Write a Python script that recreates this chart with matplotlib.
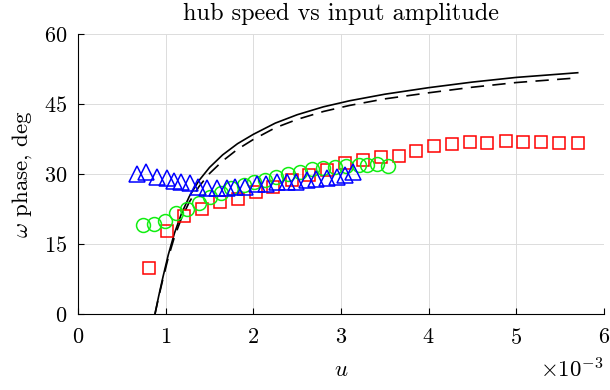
import matplotlib
matplotlib.use("Agg")
import matplotlib.pyplot as plt

plt.rcParams['font.family'] = ['cmr10', 'DejaVu Serif']
plt.rcParams['mathtext.fontset'] = 'cm'
plt.rcParams['axes.formatter.use_mathtext'] = True
plt.rcParams['axes.unicode_minus'] = False

# data, u in units of 1e-3
u_model = [0.878, 0.92, 0.97, 1.03, 1.10, 1.18, 1.27, 1.38, 1.50, 1.65, 1.82,
           2.0, 2.25, 2.5, 2.8, 3.1, 3.5, 4.0, 4.5, 5.0, 5.7]
phase_solid = [0, 3.8, 8.0, 12.7, 17.3, 21.5, 25.2, 28.6, 31.4, 34.1, 36.5,
               38.5, 40.9, 42.7, 44.4, 45.7, 47.1, 48.5, 49.7, 50.7, 51.7]
phase_dashed = [0, 3.6, 7.6, 12.1, 16.5, 20.5, 24.0, 27.3, 30.1, 32.8, 35.3,
                37.4, 39.9, 41.7, 43.4, 44.7, 46.1, 47.4, 48.6, 49.6, 50.6]

u_sq = [0.81, 1.01, 1.21, 1.42, 1.62, 1.83, 2.03, 2.23, 2.44, 2.64, 2.84, 3.05,
        3.25, 3.46, 3.66, 3.86, 4.06, 4.27, 4.47, 4.67, 4.88, 5.08, 5.28, 5.49, 5.70]
phase_sq = [9.9, 17.8, 21.0, 22.4, 23.9, 24.6, 26.2, 27.3, 28.7, 29.8, 30.9, 32.3,
            33.0, 33.6, 33.9, 34.9, 35.9, 36.4, 36.8, 36.7, 37.1, 36.9, 36.8, 36.7, 36.7]

u_circ = [0.74, 0.87, 0.99, 1.12, 1.24, 1.38, 1.51, 1.63, 1.75, 1.89, 2.01, 2.13,
          2.26, 2.40, 2.53, 2.67, 2.80, 2.93, 3.06, 3.20, 3.30, 3.41, 3.54]
phase_circ = [19.1, 19.2, 19.9, 21.6, 22.6, 23.7, 25.1, 25.9, 26.9, 27.6, 28.3, 28.7,
              29.3, 30.1, 30.5, 31.0, 31.2, 31.6, 31.7, 31.9, 32.0, 32.1, 31.7]

u_tri = [0.67, 0.78, 0.90, 1.01, 1.09, 1.18, 1.28, 1.37, 1.47, 1.58, 1.70, 1.79,
         1.90, 2.04, 2.15, 2.27, 2.38, 2.49, 2.61, 2.72, 2.84, 2.95, 3.05, 3.14]
phase_tri = [30.1, 30.5, 29.4, 29.2, 28.5, 28.2, 28.0, 27.3, 27.1, 27.1, 27.1, 27.3,
             27.3, 27.8, 27.8, 28.2, 28.2, 28.3, 28.7, 28.9, 29.2, 29.4, 29.8, 30.4]

fig = plt.figure(figsize=(6.1, 3.9), dpi=100)
ax = fig.add_axes([78/610, 76/390, 526/610, 280/390])

ax.plot(u_model, phase_solid, color='k', lw=1.2)
ax.plot(u_model, phase_dashed, color='k', lw=1.2, dashes=(8, 5))
ax.plot(u_sq, phase_sq, 's', ms=8.6, mfc='none', mec='red', mew=1.1)
ax.plot(u_circ, phase_circ, 'o', ms=10, mfc='none', mec='#11ee11', mew=1.1)
ax.plot(u_tri, phase_tri, '^', ms=11.5, mfc='none', mec='blue', mew=1.1)

ax.set_xlim(0, 6)
ax.set_ylim(0, 60)
ax.set_xticks([0, 1, 2, 3, 4, 5, 6])
ax.set_yticks([0, 15, 30, 45, 60])
ax.grid(True, color='#dcdcdc', lw=0.7)
ax.set_axisbelow(True)
for s in ['top', 'right']:
    ax.spines[s].set_visible(False)
ax.spines['left'].set_linewidth(0.8)
ax.spines['bottom'].set_linewidth(0.8)
ax.tick_params(direction='in', length=4, width=0.8, labelsize=16)
ax.tick_params(axis='x', pad=10)
ax.tick_params(axis='y', pad=8)

ax.set_title('hub speed vs input amplitude', fontsize=17.5, pad=10)
ax.set_xlabel('$u$', fontsize=16.5, labelpad=9)
ax.set_ylabel(r'$\omega$ phase, deg', fontsize=16.5, labelpad=7)
fig.text(603/610, 1 - 369/390, r'$\times 10^{-3}$', ha='right', va='center',
         fontsize=16.5)

fig.savefig('out.png', dpi=100)
